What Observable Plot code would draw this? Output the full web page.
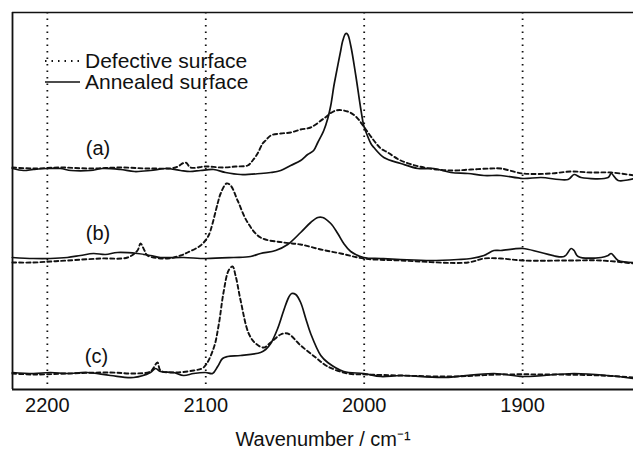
<!DOCTYPE html>
<html>
<head>
<meta charset="utf-8">
<script src="https://cdn.jsdelivr.net/npm/d3@7"></script>
<script src="https://cdn.jsdelivr.net/npm/@observablehq/plot@0.6"></script>
<style>
  body { margin: 0; background: #fff; }
  #wrap { position: relative; width: 633px; height: 449px; font-family: "Liberation Sans", Arial, Helvetica, sans-serif; }
  #legend { position: absolute; left: 44px; top: 50px; font-size: 21px; color: #111; line-height: 21px; }
  #legend .row { display: flex; align-items: center; height: 21px; }
  #legend svg { display: block; margin-right: 5px; }
</style>
</head>
<body>
<div id="wrap">
  <div id="legend">
    <div class="row"><svg width="36" height="8"><line x1="1" x2="36" y1="4" y2="4" stroke="#111" stroke-width="1.8" stroke-dasharray="1.5,5"/></svg><span>Defective surface</span></div>
    <div class="row"><svg width="36" height="8"><line x1="1" x2="36" y1="4" y2="4" stroke="#111" stroke-width="1.6"/></svg><span>Annealed surface</span></div>
  </div>
</div>
<script>
// Tick values (cm^-1)
const xTicks = [2200, 2100, 2000, 1900];
const xDomain = [2222, 1830];
const yDomain = [0, 377];

// Spectra: [wavenumber, intensity (arbitrary, offset)]
const aAnnealed = [
  [2222.1,221],[2215,219],[2208.8,220],[2200,221],[2191.8,221],[2185,219],[2172.8,219],[2165,221],[2153.9,220],[2145,218],
  [2134.9,219],[2125,221],[2115.9,219],[2110,218],[2103.3,219],[2095,220],[2087.5,217],[2078.0,215],[2065.4,216],[2059.0,217],
  [2052.7,219],[2046.4,224],[2040.1,229],[2035.7,235],[2031.9,239],[2029.3,247],[2025.5,259],[2023.0,271],[2021.1,284],
  [2019.2,303],[2017.9,314],[2014.8,339],[2013.5,349],[2011.6,356],[2010.4,355],[2008.5,344],[2005.3,314],[2002.2,281],
  [2000.3,264],[1999.0,258],[1995.8,246],[1993.9,242],[1987.6,232],[1976.9,226],[1966.1,221],[1956.0,221],[1945.3,217],
  [1934.5,216],[1924.4,214],[1913.7,214],[1899.8,211],[1888.4,212],[1871.3,210],[1867.5,215],[1863.1,212],[1846.0,212],
  [1844.1,216],[1839.7,209],[1829.6,211]
];
const aDefective = [
  [2222.1,222],[2208.8,221],[2191.8,222],[2172.8,221],[2153.9,222],[2134.9,221],[2119.1,222],[2112.8,227],[2109.6,222],
  [2100.1,223],[2088.8,222],[2081.2,223],[2073.6,224],[2070.4,229],[2067.3,236],[2064.1,246],[2062.2,249],[2059.0,254],
  [2052.7,256],[2046.4,257],[2040.1,260],[2033.8,262],[2025.5,271],[2017.9,279],[2010.4,278],[2005.3,273],[2000.3,263],
  [1993.9,249],[1989.5,241],[1985.1,237],[1976.9,229],[1962.3,222],[1945.3,219],[1932.6,220],[1920.0,221],[1913.7,221],
  [1899.8,216],[1882.0,216],[1869.4,218],[1856.8,217],[1844.1,217],[1829.6,214]
];
const bAnnealed = [
  [2222.1,132],[2208.8,131],[2198.1,131],[2187.4,132],[2179.1,134],[2170.9,136],[2163.3,135],[2155.8,137],[2143.1,136],
  [2134.9,134],[2128.6,132],[2114.0,132],[2100.1,131],[2082.4,132],[2071.7,133],[2065.4,136],[2055.9,139],[2048.3,145],
  [2040.1,157],[2033.8,167],[2029.3,172],[2026.2,172],[2021.1,166],[2016.7,156],[2012.9,146],[2008.5,138],[2000.3,132],
  [1989.5,131],[1976.9,130],[1957.9,129],[1940.8,130],[1932.6,131],[1924.4,134],[1918.1,139],[1913.7,139],[1899.8,141],
  [1888.4,137],[1873.8,133],[1869.4,141],[1867.5,139],[1865.0,133],[1850.4,132],[1846.0,134],[1844.1,136],[1839.7,129],
  [1829.6,127]
];
const bDefective = [
  [2222.1,127],[2208.8,127],[2198.1,128],[2187.4,129],[2166.5,131],[2149.4,132],[2143.1,139],[2141.2,146],[2138.7,139],
  [2136.8,134],[2124.1,131],[2115.9,134],[2111.5,137],[2103.3,144],[2098.9,152],[2097.0,159],[2092.5,186],[2090.6,196],
  [2086.9,206],[2084.3,204],[2079.9,189],[2073.6,167],[2065.4,152],[2050.8,147],[2040.1,145],[2027.4,140],[2014.8,136],
  [2000.3,131],[1976.9,129],[1934.5,127],[1924.4,131],[1913.7,131],[1899.8,129],[1871.3,129],[1850.4,129],[1829.6,126]
];
const cAnnealed = [
  [2222.1,17],[2208.8,16],[2198.1,17],[2187.4,16],[2174.7,17],[2160.2,14],[2145.6,12],[2134.9,17],[2131.7,21],[2128.6,18],
  [2120.4,17],[2114.0,14],[2107.7,16],[2100.1,17],[2095.7,16],[2092.5,23],[2089.4,31],[2086.2,33],[2078.0,34],[2065.4,37],
  [2062.2,40],[2059.0,46],[2054.6,61],[2050.8,79],[2047.7,92],[2045.8,96],[2043.2,95],[2040.1,87],[2036.9,71],[2033.8,56],
  [2027.4,34],[2023.0,27],[2012.9,18],[2000.3,16],[1989.5,13],[1976.9,14],[1949.7,12],[1918.1,16],[1899.8,13],[1867.5,16],
  [1846.0,14],[1829.6,11]
];
const cDefective = [
  [2222.1,16],[2208.8,15],[2187.4,16],[2160.2,17],[2145.6,16],[2134.9,18],[2130.5,27],[2128.6,19],[2120.4,17],[2107.7,19],
  [2101.4,22],[2095.1,41],[2091.9,64],[2088.8,97],[2085.6,119],[2083.1,123],[2081.2,114],[2078.0,89],[2072.9,56],[2068.5,46],
  [2063.5,42],[2059.0,47],[2052.7,55],[2048.3,56],[2040.1,44],[2030.6,32],[2023.0,23],[2010.4,16],[1997.7,15],[1976.9,14],
  [1945.3,13],[1913.7,15],[1882.0,15],[1850.4,14],[1829.6,12]
];

// Panel labels (anchor in data units)
const panelLabels = [
  {text: "(a)", x: 2168, y: 241},
  {text: "(b)", x: 2168, y: 156},
  {text: "(c)", x: 2169, y: 33}
];

const solid = {x: d => d[0], y: d => d[1], stroke: "#111", strokeWidth: 1.7, curve: "catmull-rom"};
const dashed = {x: d => d[0], y: d => d[1], stroke: "#111", strokeWidth: 1.9, strokeDasharray: "4,3", curve: "catmull-rom"};

const chart = Plot.plot({
  width: 633,
  height: 449,
  marginLeft: 12,
  marginRight: 0,
  marginTop: 12,
  marginBottom: 60,
  style: {fontFamily: "'Liberation Sans', Arial, Helvetica, sans-serif", fontSize: "20px", color: "#111", background: "transparent"},
  x: {domain: xDomain},
  y: {domain: yDomain, axis: null},
  marks: [
    Plot.ruleX(xTicks, {stroke: "#111", strokeWidth: 1.8, strokeDasharray: "1.5,5"}),
    Plot.ruleY([yDomain[0]], {stroke: "#111", strokeWidth: 2}),
    Plot.ruleY([yDomain[1]], {stroke: "#111", strokeWidth: 1.6}),
    Plot.ruleX([xDomain[0]], {stroke: "#111", strokeWidth: 1.8}),
    Plot.line(aDefective, dashed),
    Plot.line(aAnnealed, solid),
    Plot.line(bDefective, dashed),
    Plot.line(bAnnealed, solid),
    Plot.line(cDefective, dashed),
    Plot.line(cAnnealed, solid),
    Plot.text(panelLabels, {x: "x", y: "y", text: "text", fontSize: 20, fill: "#111"}),
    Plot.axisX({
      ticks: xTicks,
      tickSize: 0,
      tickPadding: 8,
      tickFormat: d => String(d),
      fontSize: 20,
      label: "Wavenumber / cm⁻¹",
      labelAnchor: "center",
      labelArrow: "none",
      labelOffset: 56
    })
  ]
});
document.getElementById("wrap").prepend(chart);
chart.style.position = "absolute";
chart.style.left = "0";
chart.style.top = "0";
</script>
</body>
</html>
